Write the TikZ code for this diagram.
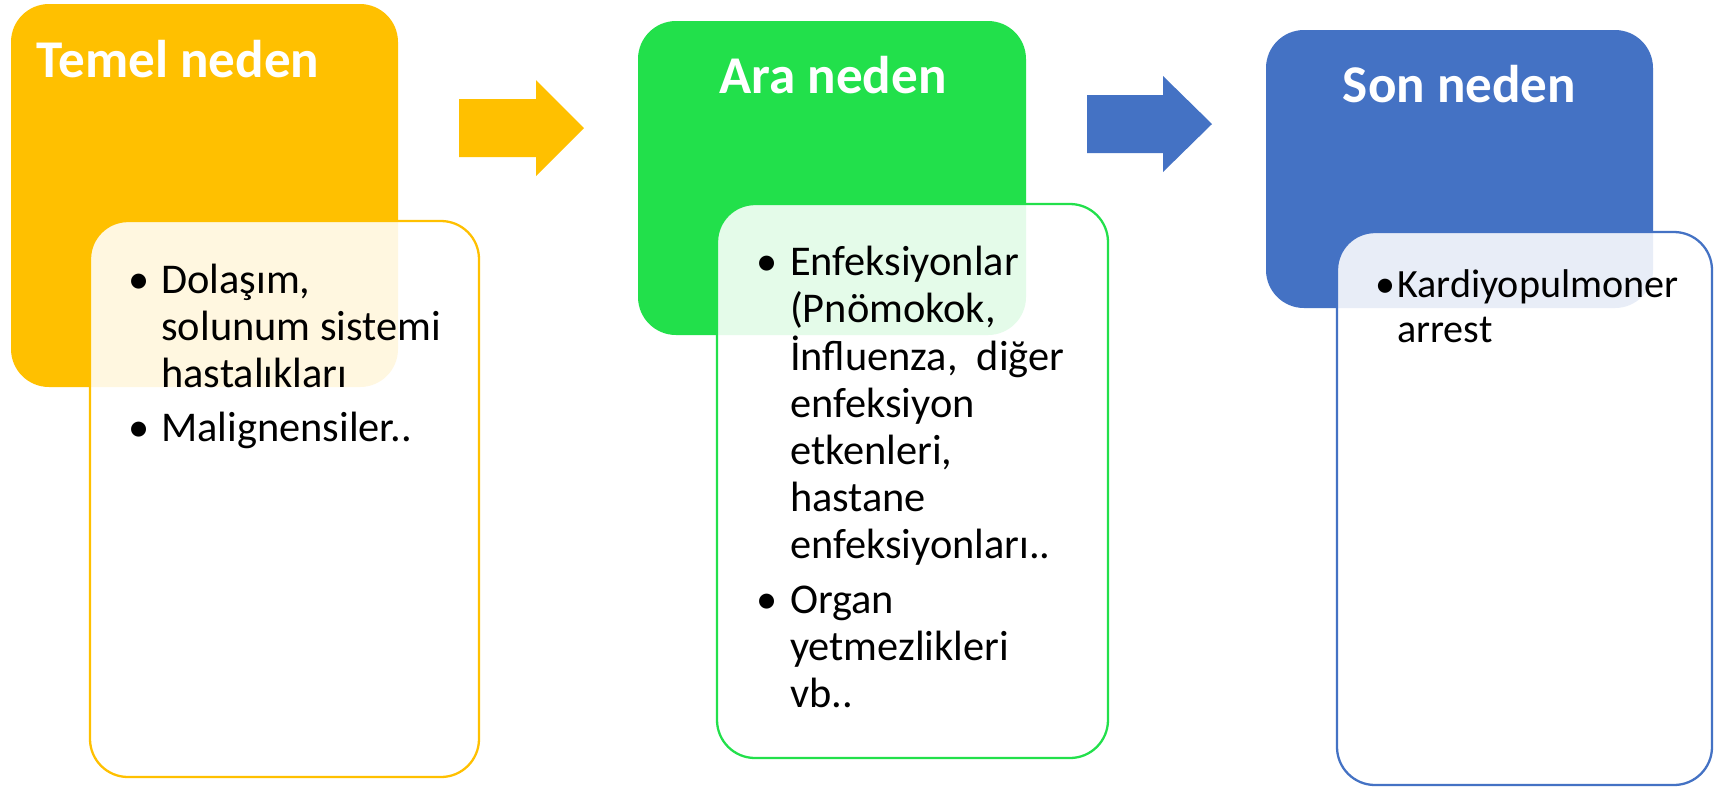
\documentclass[tikz,border=0pt]{standalone}
\usepackage{fontspec}
\setmainfont{Carlito}
\usetikzlibrary{fit,positioning}
\definecolor{tyel}{HTML}{FFC000}
\definecolor{tgrn}{HTML}{22E04B}
\definecolor{tblu}{HTML}{4472C4}
\newcommand{\bltlist}[2]{\begin{tabular}[t]{@{}p{#1}@{}l@{}}#2\end{tabular}}

\begin{document}
\begin{tikzpicture}[x=0.01cm,y=-0.01cm,inner sep=0pt,outer sep=0pt]
  \tikzstyle{causebox}=[rounded corners=0.38cm,inner sep=0pt]
  \tikzstyle{listbox}=[causebox,fill=white,fill opacity=0.88,line width=0.65pt]
  \tikzstyle{boxtitle}=[text=white,font=\fontsize{15.1}{17}\selectfont\bfseries]
  \tikzstyle{listtext}=[anchor=base west,font=\fontsize{12.05}{13.37}\selectfont]
\useasboundingbox[fill=white] (0,0) rectangle (1714,787);
\node[causebox,fill=tyel,fit={(11,4) (398,387)}] (temel) {};
\node[causebox,fill=tgrn,fit={(638,21) (1026,335)}] (ara) {};
\node[causebox,fill=tblu,fit={(1266,30) (1653,308)}] (son) {};
\node[boxtitle,anchor=base west] (temelt) at (37,77) {Temel neden};
\node[boxtitle,anchor=base] (arat) at (833,93) {Ara neden};
\node[boxtitle,anchor=base] (sont) at (1459.5,102) {Son neden};
\node[listbox,draw=tyel,fit={(90,221) (479,777)}] (temell) {};
\node[listbox,draw=tgrn,fit={(717,204) (1108,758)}] (aral) {};
\node[listbox,draw=tblu,fit={(1337,232) (1712,785)}] (sonl) {};
\fill[tyel] (459,99) -- (536,99) -- (536,80) -- (584,128) -- (536,176) -- (536,157) -- (459,157) -- cycle;
\fill[tblu] (1087,95) -- (1163,95) -- (1163,76) -- (1212,124) -- (1163,172) -- (1163,153) -- (1087,153) -- cycle;
\node[listtext] (temelx) at (128,293) {\bltlist{9.5pt}{%
  \textbullet & Dolaşım,\\ & solunum sistemi\\ & hastalıkları\\[2pt]
  \textbullet & Malignensiler..}};
\node[listtext] (arax) at (756,275) {\bltlist{9.7pt}{%
  \textbullet & Enfeksiyonlar\\ & (Pnömokok,\\ & İnfluenza, \ diğer\\ & enfeksiyon\\ & etkenleri,\\ & hastane\\ & enfeksiyonları..\\[2.3pt]
  \textbullet & Organ\\ & yetmezlikleri\\ & vb..}};
\node[listtext,font=\fontsize{11.4}{12.8}\selectfont] (sonx) at (1375,297) {\bltlist{6.3pt}{%
  \textbullet & Kardiyopulmoner\\ & arrest}};
\end{tikzpicture}
\end{document}
